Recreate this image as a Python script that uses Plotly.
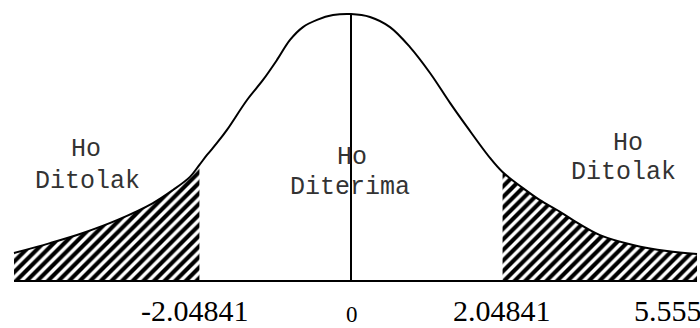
import numpy as np
import plotly.graph_objects as go

# Curve (x in t-units, y as fraction of peak height)
curve_x = [-4.554, -4.068, -3.622, -3.162, -2.676, -2.405, -2.176, -2.04841, -1.946,
           -1.811, -1.676, -1.405, -1.189, -1.000, -0.824, -0.649, -0.459, -0.243, 0.0,
           0.257, 0.527, 0.797, 1.068, 1.338, 1.568, 1.878, 2.04841, 2.324, 2.554,
           2.784, 3.000, 3.365, 3.811, 4.270, 4.676]
curve_y = [0.105, 0.142, 0.180, 0.228, 0.292, 0.341, 0.390, 0.435, 0.472,
           0.517, 0.566, 0.678, 0.753, 0.828, 0.903, 0.951, 0.978, 0.996, 1.0,
           0.989, 0.951, 0.876, 0.779, 0.667, 0.577, 0.461, 0.408, 0.348, 0.303,
           0.266, 0.228, 0.172, 0.135, 0.112, 0.101]

t_crit = 2.04841
tick_labels = ["-2.04841", "0", "2.04841", "5.555"]
region_labels = [("Ho", "Ditolak"), ("Ho", "Diterima"), ("Ho", "Ditolak")]

cx = np.array(curve_x)
cy = np.array(curve_y)

fig = go.Figure()

pattern = dict(shape="/", fgcolor="black", bgcolor="white", size=7.5, solidity=0.55, fillmode="replace")

left = cx <= -t_crit
right = cx >= t_crit
for mask in (left, right):
    fig.add_trace(go.Scatter(
        x=cx[mask], y=cy[mask], mode="lines", line=dict(width=0, color="black", shape="spline"),
        fill="tozeroy", fillcolor="white", fillpattern=pattern, hoverinfo="skip", showlegend=False))

# Bell curve
fig.add_trace(go.Scatter(x=cx, y=cy, mode="lines",
                         line=dict(color="black", width=2, shape="spline", smoothing=1),
                         showlegend=False, hoverinfo="skip"))
# Baseline
fig.add_trace(go.Scatter(x=[cx[0], cx[-1]], y=[0, 0], mode="lines",
                         line=dict(color="black", width=2), showlegend=False, hoverinfo="skip"))
# Center line
fig.add_trace(go.Scatter(x=[0, 0], y=[0, cy.max()], mode="lines",
                         line=dict(color="black", width=2), showlegend=False, hoverinfo="skip"))

mono = "Liberation Mono, Courier New, monospace"
serif = "Liberation Serif, Times New Roman, serif"

# Region labels (paper positions)
region_pos = [(0.123, 0.543, 0.125, 0.448),
              (0.503, 0.521, 0.500, 0.427),
              (0.897, 0.564, 0.890, 0.473)]
for (l1, l2), (x1, y1, x2, y2) in zip(region_labels, region_pos):
    fig.add_annotation(text=l1, x=x1, y=y1, xref="paper", yref="paper", showarrow=False,
                       font=dict(family=mono, size=25, color="#333"), xanchor="center", yanchor="middle")
    fig.add_annotation(text=l2, x=x2, y=y2, xref="paper", yref="paper", showarrow=False,
                       font=dict(family=mono, size=25, color="#333"), xanchor="center", yanchor="middle")

# Tick labels
tick_pos = [-2.11, 0.02, 2.04, 4.28]
tick_sizes = [30, 23, 30, 30]
for lab, px, fs in zip(tick_labels, tick_pos, tick_sizes):
    fig.add_annotation(text=lab, x=px, y=0.0, xref="x", yref="paper", showarrow=False,
                       font=dict(family=serif, size=fs, color="black"), borderpad=0,
                       xanchor="center", yanchor="bottom")

fig.update_layout(
    width=700, height=328, margin=dict(l=0, r=0, t=0, b=0),
    paper_bgcolor="white", plot_bgcolor="white",
    xaxis=dict(range=[-351 / 74, 349 / 74], visible=False, fixedrange=True),
    yaxis=dict(range=[(281 - 328) / 267, 281 / 267], visible=False, fixedrange=True),
    showlegend=False,
)

fig.write_html("out.html", config={"displayModeBar": False},
               post_script="document.body.style.margin='0';document.body.style.padding='0';"
                           "document.body.style.overflow='hidden';")
